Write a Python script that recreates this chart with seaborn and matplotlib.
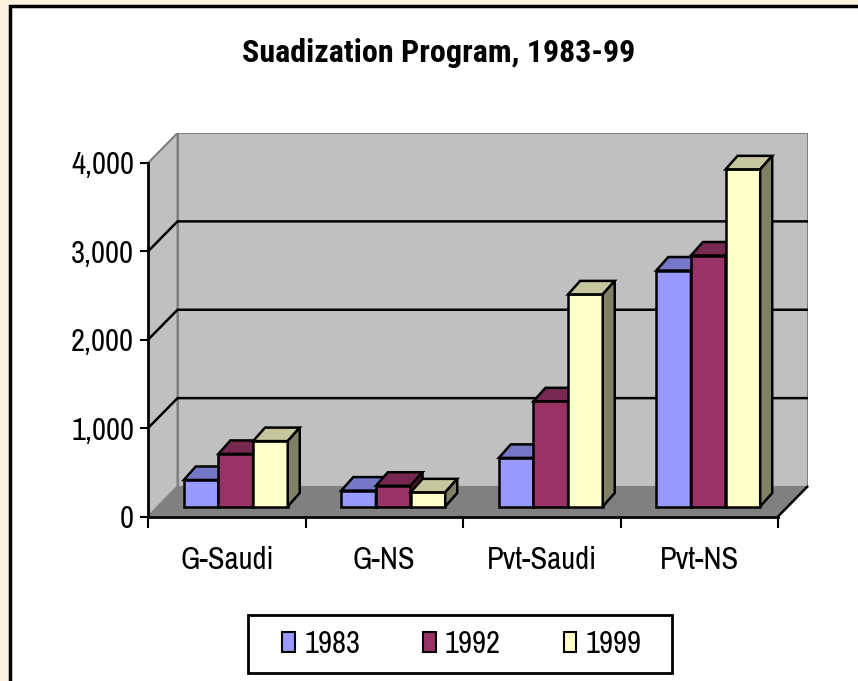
import numpy as np
import pandas as pd
import matplotlib
matplotlib.use('Agg')
import matplotlib.pyplot as plt
import matplotlib.colors as mcolors
import seaborn as sns
from matplotlib import font_manager
from matplotlib.patches import Polygon, Rectangle, Patch

# données
categories = ['G-Saudi', 'G-NS', 'Pvt-Saudi', 'Pvt-NS']
annees = ['1983', '1992', '1999']
v1983 = [300, 180, 550, 2670]
v1992 = [595, 235, 1190, 2840]
v1999 = [740, 160, 2400, 3815]
graduations = [0, 1000, 2000, 3000, 4000]
couleurs = ['#9999FF', '#993366', '#FFFFCC']
titre = 'Suadization Program, 1983-99'

df = pd.DataFrame({'categorie': categories * 3,
                   'annee': np.repeat(annees, len(categories)),
                   'valeur': v1983 + v1992 + v1999})


# police étroite (type Arial Narrow) selon ce qui est installé
def choisir(candidats, gras=False):
    for nom in candidats:
        poids = []
        for f in font_manager.fontManager.ttflist:
            if f.name == nom:
                try:
                    poids.append(int(f.weight))
                except (TypeError, ValueError):
                    poids.append(700 if 'bold' in str(f.weight) else 400)
        if poids and (not gras or max(poids) >= 700):
            return nom
    return 'Liberation Sans'


police = choisir(['Liberation Sans Narrow', 'Archivo Narrow', 'Roboto Condensed', 'IBM Plex Sans Condensed'])
police_gras = choisir(['Liberation Sans Narrow', 'Roboto Condensed', 'Archivo Narrow',
                       'IBM Plex Sans Condensed', 'Fira Sans Condensed'], gras=True)

sns.set_style('white')
plt.rcParams['font.family'] = [police, 'DejaVu Sans']
for cle in ['text.color', 'xtick.color', 'ytick.color', 'axes.labelcolor']:
    plt.rcParams[cle] = 'black'

W, H = 858, 681
fig = plt.figure(figsize=(W / 100, H / 100), dpi=100)

# fond beige + cadre blanc
fig.add_artist(Rectangle((0, 0), 1, 1, transform=fig.transFigure,
                         facecolor='#FCF1DC', edgecolor='none', zorder=-10))
fig.add_artist(Rectangle((9.5 / W, -0.05), 1.1, (H - 6.5) / H + 0.05, transform=fig.transFigure,
                         facecolor='white', edgecolor='black', linewidth=2.5, zorder=-9))

# géométrie (pixels) : plan avant et profondeur
ppx = 157.5          # pixels par catégorie
ppy = 88.375 / 1000  # pixels par unité
x_gauche, y_zero = 148, 516.5
prof_x, prof_y = 29.5, 30


def dx(p):
    return p / ppx


def dy(p):
    return p / ppy


wx, wy = dx(prof_x), dy(prof_y)
haut_y = 4000 + wy
ax = fig.add_axes([x_gauche / W, (H - y_zero) / H,
                   (4 * ppx + prof_x) / W, (haut_y * ppy) / H])

sns.barplot(data=df, x='categorie', y='valeur', hue='annee', palette=couleurs,
            width=0.66, saturation=1, edgecolor='black', linewidth=1.8,
            legend=False, ax=ax)

ax.set_xlim(-0.5, 3.5 + wx)
ax.set_ylim(0, haut_y)
ax.set_xlabel('')
ax.set_ylabel('')
ax.patch.set_alpha(0)

# murs et sol
ax.add_patch(Polygon([(-0.5, 0), (-0.5 + wx, wy), (-0.5 + wx, 4000 + wy), (-0.5, 4000)],
                     facecolor='#C0C0C0', edgecolor='#808080', linewidth=1.5, zorder=0))
ax.add_patch(Rectangle((-0.5 + wx, wy), 4, 4000, facecolor='#C0C0C0',
                       edgecolor='#808080', linewidth=1.5, zorder=0))
ax.add_patch(Polygon([(-0.5, 0), (3.5, 0), (3.5 + wx, wy), (-0.5 + wx, wy)],
                     facecolor='#808080', edgecolor='none', zorder=1))
ax.plot([3.5, 3.5 + wx], [0, wy], color='black', linewidth=1.8, zorder=2, clip_on=False)
for v in graduations[1:-1]:
    ax.plot([-0.5, -0.5 + wx, 3.5 + wx], [v, v + wy, v + wy], color='black',
            linewidth=1.8, zorder=1)

# effet 3D des barres
bx, by = dx(9), dy(10)
px_, py_ = dx(12), dy(13.5)
for i, cont in enumerate(ax.containers):
    base = np.array(mcolors.to_rgb(couleurs[i]))
    for barre in cont:
        x, w, h = barre.get_x() + bx, barre.get_width(), barre.get_height()
        barre.set_x(x)
        barre.set_y(by)
        barre.set_zorder(3 + i)
        sommet = by + h
        ax.add_patch(Polygon([(x, sommet), (x + w, sommet), (x + w + px_, sommet + py_), (x + px_, sommet + py_)],
                             facecolor=base * 0.78, edgecolor='black', linewidth=1.8, zorder=3 + i))
        ax.add_patch(Polygon([(x + w, by), (x + w + px_, by + py_), (x + w + px_, sommet + py_), (x + w, sommet)],
                             facecolor=base * 0.5, edgecolor='black', linewidth=1.8, zorder=3 + i))

# axes
for cote in ['top', 'right']:
    ax.spines[cote].set_visible(False)
ax.spines['left'].set_bounds(0, 4000)
ax.spines['bottom'].set_bounds(-0.5, 3.5)
for cote in ['left', 'bottom']:
    ax.spines[cote].set_linewidth(2)
    ax.spines[cote].set_color('black')
    ax.spines[cote].set_zorder(8)

ax.set_yticks(graduations)
ax.set_yticklabels([f'{v:,}' for v in graduations])
ax.tick_params(axis='y', direction='out', length=6, width=1.5, pad=4, labelsize=22, left=True)
ax.set_xticks(range(len(categories)))
ax.set_xticklabels(categories)
ax.set_xticks(np.arange(-0.5, 4, 1), minor=True)
ax.tick_params(axis='x', which='major', length=0, pad=21, labelsize=22)
ax.tick_params(axis='x', which='minor', direction='out', length=8, width=1.5, bottom=True)

fig.text(439 / W, (H - 53) / H, titre, ha='center', va='center', fontsize=23,
         fontweight='bold', family=[police_gras, 'DejaVu Sans'])

# légende (cadre dessiné à part pour garder des marges larges)
poignees = [Patch(facecolor=c, edgecolor='black', linewidth=1.5) for c in couleurs]
leg = fig.legend(poignees, annees, ncol=3, loc='center', bbox_to_anchor=(462 / W, (H - 644) / H),
                 frameon=False, fontsize=22,
                 handlelength=0.42, handleheight=0.65, handletextpad=0.3,
                 columnspacing=2.05, borderpad=0.3, borderaxespad=0)
fig.add_artist(Rectangle((248 / W, (H - 673) / H), 424 / W, 58 / H, transform=fig.transFigure,
                         facecolor='white', edgecolor='black', linewidth=2, zorder=-1))

fig.savefig('out.png', dpi=100, facecolor='white')
